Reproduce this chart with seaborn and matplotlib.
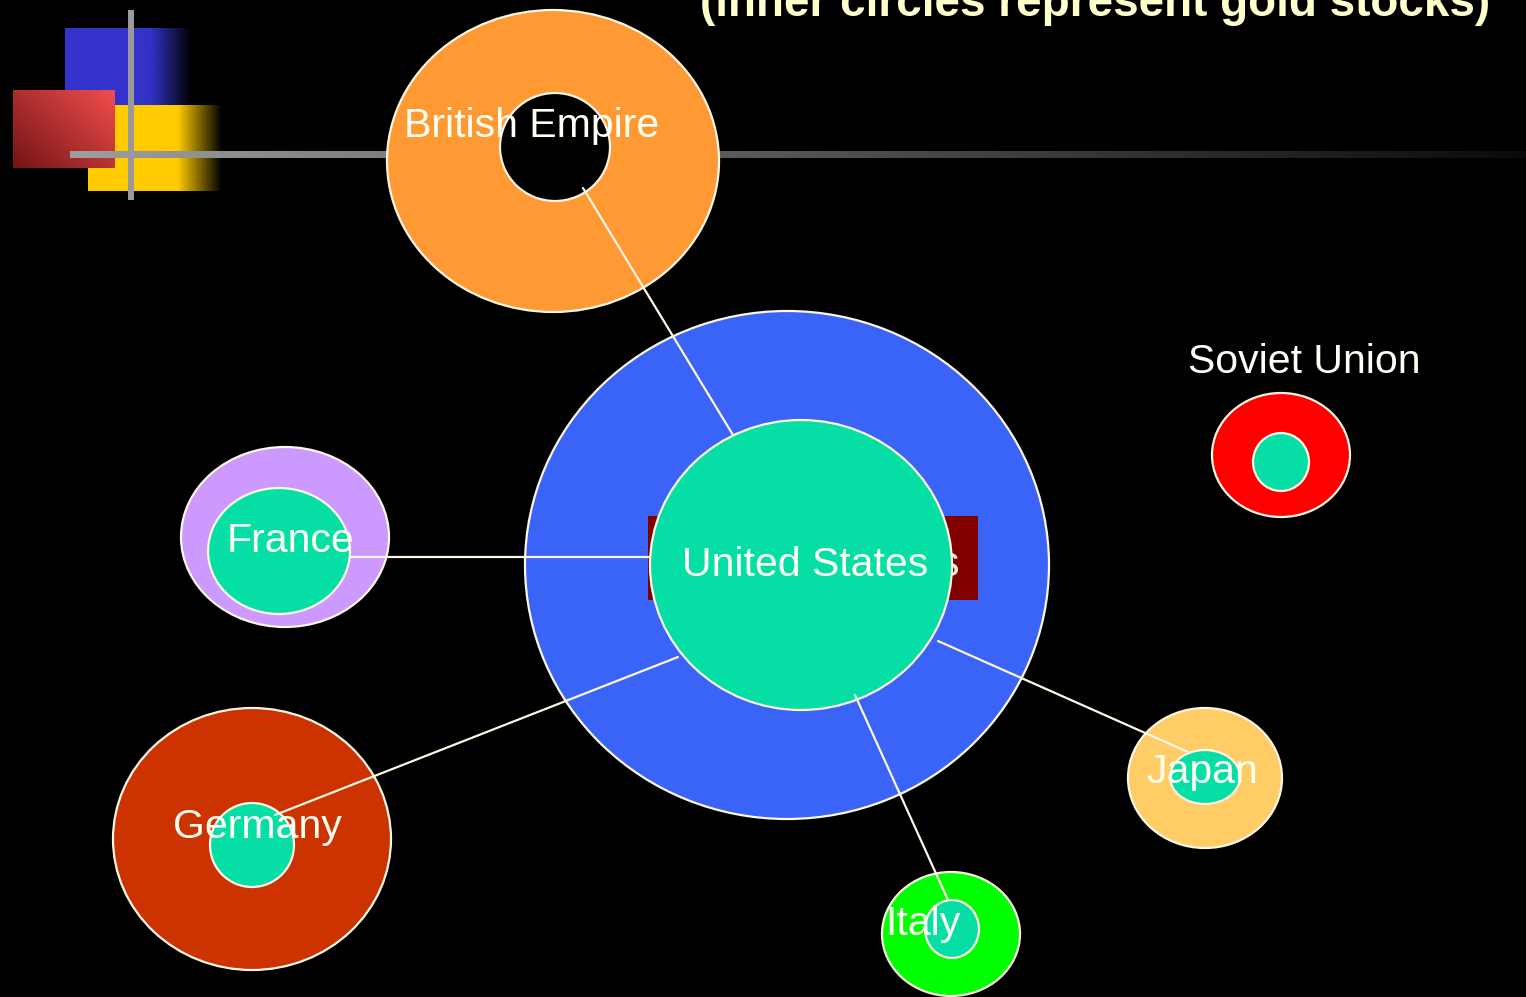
import numpy as np
import pandas as pd
import matplotlib
matplotlib.use("Agg")
import matplotlib.pyplot as plt
from matplotlib.patches import Ellipse, Rectangle
import seaborn as sns

# ---------------- data ----------------
countries = ["British Empire", "United States", "France", "Germany", "Japan", "Italy", "Soviet Union"]
outer_x = [553, 787, 285, 252, 1205, 951, 1281]
outer_y = [161, 565, 537, 839, 778, 934, 455]
outer_rx = [166, 262, 104, 139, 77, 69, 69]
outer_ry = [151, 254, 90, 131, 70, 62, 62]
inner_x = [555, 801, 279, 252, 1205, 952, 1281]
inner_y = [147, 565, 551, 845, 777, 929, 462]
inner_rx = [55, 151, 71, 42, 35, 27, 28]
inner_ry = [54, 145, 63, 42, 27, 29, 29]
outer_colors = ["#FF9933", "#3A63F8", "#CC99FF", "#CC3300", "#FFCC66", "#00FF00", "#FF0000"]
inner_colors = ["#000000", "#05DFA5", "#05DFA5", "#05DFA5", "#05DFA5", "#05DFA5", "#05DFA5"]
label_x = [532, 805, 291, 257, 1202, 923, 1304]
label_y = [137, 576, 552, 838, 783, 935, 373]

# connector lines to the United States
link_names = ["British Empire", "France", "Germany", "Japan", "Italy"]
link_x0 = [583, 350, 275, 1188, 948]
link_y0 = [188, 557, 815, 752, 900]
link_x1 = [733, 650, 678, 938, 855]
link_y1 = [435, 557, 657, 641, 695]

title_text = "(inner circles represent gold stocks)"

# ---------------- figure ----------------
sns.set_style("dark", {"axes.facecolor": "black", "figure.facecolor": "black"})
plt.rcParams["font.family"] = ["Liberation Sans", "DejaVu Sans"]

W, H = 1526, 997
fig = plt.figure(figsize=(W / 100, H / 100), dpi=100, facecolor="black")
ax = fig.add_axes([0, 0, 1, 1])
ax.set_facecolor("black")

edge = "#FFF6E6"


def grad_rect(x0, x1, y0, y1, rgb, fade_start, z):
    n = 200
    xs = np.linspace(x0, x1, n)
    a = np.clip((x1 - xs) / max(x1 - fade_start, 1), 0, 1)
    arr = np.zeros((2, n, 4))
    arr[..., :3] = rgb
    arr[..., 3] = a
    ax.imshow(arr, extent=(x0, x1, y1, y0), zorder=z, interpolation="bilinear", aspect="auto")


# decoration top-left
grad_rect(65, 192, 28, 105, (0.2, 0.2, 0.8), 150, 1)
# red rect with diagonal darkening
n = 120
yy, xx = np.mgrid[0:1:n * 1j, 0:1:n * 1j]
t = np.clip(0.55 * xx + 0.45 * (1 - yy), 0, 1)
red = np.zeros((n, n, 4))
red[..., 0] = 0.45 + 0.5 * t
red[..., 1] = 0.08 + 0.22 * t
red[..., 2] = 0.08 + 0.22 * t
red[..., 3] = 1
grad_rect(88, 222, 105, 191, (1.0, 0.8, 0.0), 178, 1.5)
ax.imshow(red, extent=(13, 115, 168, 90), zorder=2, interpolation="bilinear", aspect="auto")
# gray horizontal line fading out
m = 400
gl = np.zeros((2, m, 4))
g = np.linspace(0.62, 0.04, m)
gl[..., 0] = g
gl[..., 1] = g
gl[..., 2] = g
gl[..., 3] = 1
ax.imshow(gl, extent=(70, 1526, 158, 151), zorder=2.5, interpolation="bilinear", aspect="auto")
ax.add_patch(Rectangle((128, 10), 6, 190, color="#9A9A9A", zorder=2.6, lw=0))

# outer circles
for i, c in enumerate(countries):
    ax.add_patch(Ellipse((outer_x[i], outer_y[i]), 2 * outer_rx[i], 2 * outer_ry[i],
                         facecolor=outer_colors[i], edgecolor=edge, lw=1.6, zorder=3 + i * 0.01))

# hidden label box behind US gold circle
ax.add_patch(Rectangle((648, 516), 330, 84, color="#800000", zorder=3.5, lw=0))
ax.text(960, 576, "United States", color="#FFF0E0", fontsize=30, ha="right", va="baseline", zorder=3.6)

# inner circles
for i, c in enumerate(countries):
    ax.add_patch(Ellipse((inner_x[i], inner_y[i]), 2 * inner_rx[i], 2 * inner_ry[i],
                         facecolor=inner_colors[i], edgecolor=edge, lw=1.6, zorder=4 + i * 0.01))

# connector lines via seaborn
rows = []
for i, name in enumerate(link_names):
    rows.append({"link": name, "x": link_x0[i], "y": link_y0[i], "o": 0})
    rows.append({"link": name, "x": link_x1[i], "y": link_y1[i], "o": 1})
links = pd.DataFrame(rows)
sns.lineplot(data=links, x="x", y="y", units="link", estimator=None, sort=False,
             color=edge, lw=1.6, ax=ax, zorder=5, legend=False)

# labels
for i, c in enumerate(countries):
    ax.text(label_x[i], label_y[i], c, color="#FFFFF4", fontsize=29.5,
            ha="center", va="baseline", zorder=6)

# title (partly cut at the top)
ax.text(1490, 16, title_text, color="#FFFFCC", fontsize=33, fontweight="bold",
        ha="right", va="baseline", zorder=6)

ax.set_xlim(0, W)
ax.set_ylim(H, 0)
ax.set_xlabel("")
ax.set_ylabel("")
ax.set_xticks([])
ax.set_yticks([])
for s in ax.spines.values():
    s.set_visible(False)
ax.grid(False)

fig.savefig("out.png", dpi=100, facecolor="black")
